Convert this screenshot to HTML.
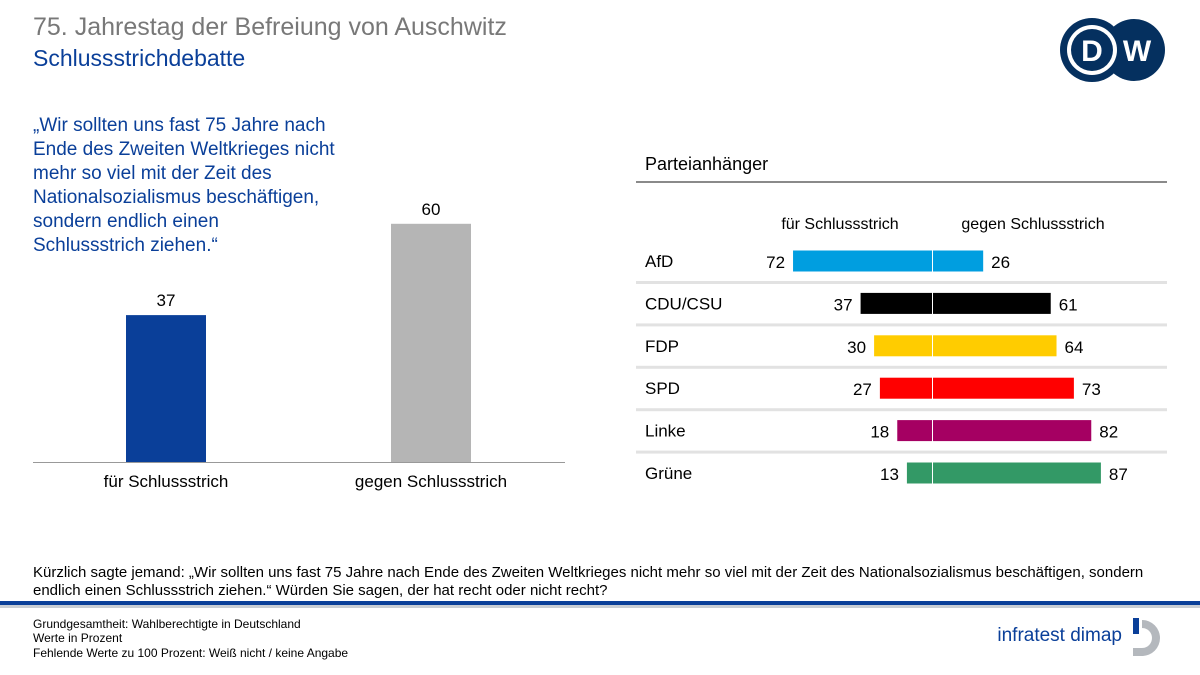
<!DOCTYPE html>
<html><head><meta charset="utf-8"><style>
body{margin:0;width:1200px;height:675px;overflow:hidden;background:#fff;font-family:"Liberation Sans",sans-serif}
svg{display:block}
</style></head><body>
<svg id="c" width="1200" height="675" xmlns="http://www.w3.org/2000/svg">
<text x="33" y="35" font-size="25" fill="#787878">75. Jahrestag der Befreiung von Auschwitz</text>
<text x="33" y="66" font-size="23" fill="#0a3f99">Schlussstrichdebatte</text>
<g>
<circle cx="1134" cy="50" r="31" fill="#05305f"/>
<circle cx="1092" cy="50" r="32" fill="#05305f"/>
<circle cx="1092" cy="50" r="25" fill="#fff"/>
<circle cx="1092" cy="50" r="21" fill="#05305f"/>
<text x="1092" y="61" font-size="30" font-weight="bold" fill="#fff" text-anchor="middle">D</text>
<text x="1137" y="61" font-size="30" font-weight="bold" fill="#fff" text-anchor="middle">W</text>
</g>
<g font-size="19" fill="#0a3f99">
<text x="33" y="131">„Wir sollten uns fast 75 Jahre nach</text>
<text x="33" y="155">Ende des Zweiten Weltkrieges nicht</text>
<text x="33" y="179">mehr so viel mit der Zeit des</text>
<text x="33" y="203">Nationalsozialismus beschäftigen,</text>
<text x="33" y="227">sondern endlich einen</text>
<text x="33" y="251">Schlussstrich ziehen.“</text>
</g>
<g id="left"></g>
<text x="645" y="170" font-size="18" fill="#000">Parteianhänger</text>
<rect x="636" y="181" width="531" height="2" fill="#8a8a8a"/>
<text x="840" y="229" font-size="16" text-anchor="middle">für Schlussstrich</text>
<text x="1033" y="229" font-size="16" text-anchor="middle">gegen Schlussstrich</text>
<g id="right"></g>
<text x="33" y="577" font-size="15">Kürzlich sagte jemand: „Wir sollten uns fast 75 Jahre nach Ende des Zweiten Weltkrieges nicht mehr so viel mit der Zeit des Nationalsozialismus beschäftigen, sondern</text>
<text x="33" y="595" font-size="15">endlich einen Schlussstrich ziehen.“ Würden Sie sagen, der hat recht oder nicht recht?</text>
<rect x="0" y="601" width="1200" height="4" fill="#0a3f99"/>
<rect x="0" y="605" width="1200" height="3" fill="#c8cdd4"/>
<g font-size="12" fill="#000">
<text x="33" y="628">Grundgesamtheit: Wahlberechtigte in Deutschland</text>
<text x="33" y="642">Werte in Prozent</text>
<text x="33" y="657">Fehlende Werte zu 100 Prozent: Weiß nicht / keine Angabe</text>
</g>
<g>
<text x="1122" y="641" font-size="19" fill="#0a3f99" text-anchor="end">infratest dimap</text>
<rect x="1133" y="618" width="6" height="16" fill="#0a3f99"/>
<path d="M1142 620 A17 17 0 0 1 1142 656 L1133 656 L1133 648 L1142 648 A9 9 0 0 0 1142 628 Z" fill="#b4b8bd"/>
</g>
</svg>
<script>
const leftCats=["für Schlussstrich","gegen Schlussstrich"];
const leftVals=[37,60];
const parties=["AfD","CDU/CSU","FDP","SPD","Linke","Grüne"];
const fuerVals=[72,37,30,27,18,13];
const gegenVals=[26,61,64,73,82,87];
const partyColors=["#009ee0","#000000","#ffcc00","#ff0000","#a50062","#339966"];
const NS="http://www.w3.org/2000/svg";
function mk(t,a,p,txt){const e=document.createElementNS(NS,t);for(const k in a)e.setAttribute(k,a[k]);if(txt!=null)e.textContent=txt;p.appendChild(e);return e;}
const L=document.getElementById('left');
const base=462, yL=v=>base-v*3.97;
const xC=i=>166+i*265;
leftCats.forEach((c,i)=>{
 const r=mk('rect',{x:xC(i)-40,y:yL(leftVals[i]),width:80,height:base-yL(leftVals[i]),fill:i==0?'#0a3f99':'#b5b5b5'},L);
 
 
 const t=mk('text',{x:xC(i),y:yL(leftVals[i])-9,'font-size':17,'text-anchor':'middle'},L,leftVals[i]);
 
 
 const a=mk('text',{x:xC(i),y:487,'font-size':17,'text-anchor':'middle'},L,c);
 
 
});
const ax=mk('rect',{x:33,y:462,width:532,height:1,fill:'#999'},L);


const R=document.getElementById('right');
const cx=932, s=1.93, rowY=i=>261+i*42.4;
parties.forEach((p,i)=>{
 const y=rowY(i);
 if(i<parties.length-1){const sep=mk('rect',{x:636,y:y+20,width:531,height:3,fill:'#e2e2e2'},R);
 
 }
 const n=mk('text',{x:645,y:y+6,'font-size':17},R,p);
 
 
 const wl=fuerVals[i]*s, wr=gegenVals[i]*s;
 const b1=mk('rect',{x:cx-wl,y:y-10.5,width:wl,height:21,fill:partyColors[i]},R);
 
 
 const b2=mk('rect',{x:cx+1,y:y-10.5,width:wr,height:21,fill:partyColors[i]},R);
 
 
 const t1=mk('text',{x:cx-wl-8,y:y+7,'font-size':17,'text-anchor':'end'},R,fuerVals[i]);
 
 
 const t2=mk('text',{x:cx+wr+9,y:y+7,'font-size':17},R,gegenVals[i]);
 
 
});
</script>
</body></html>
